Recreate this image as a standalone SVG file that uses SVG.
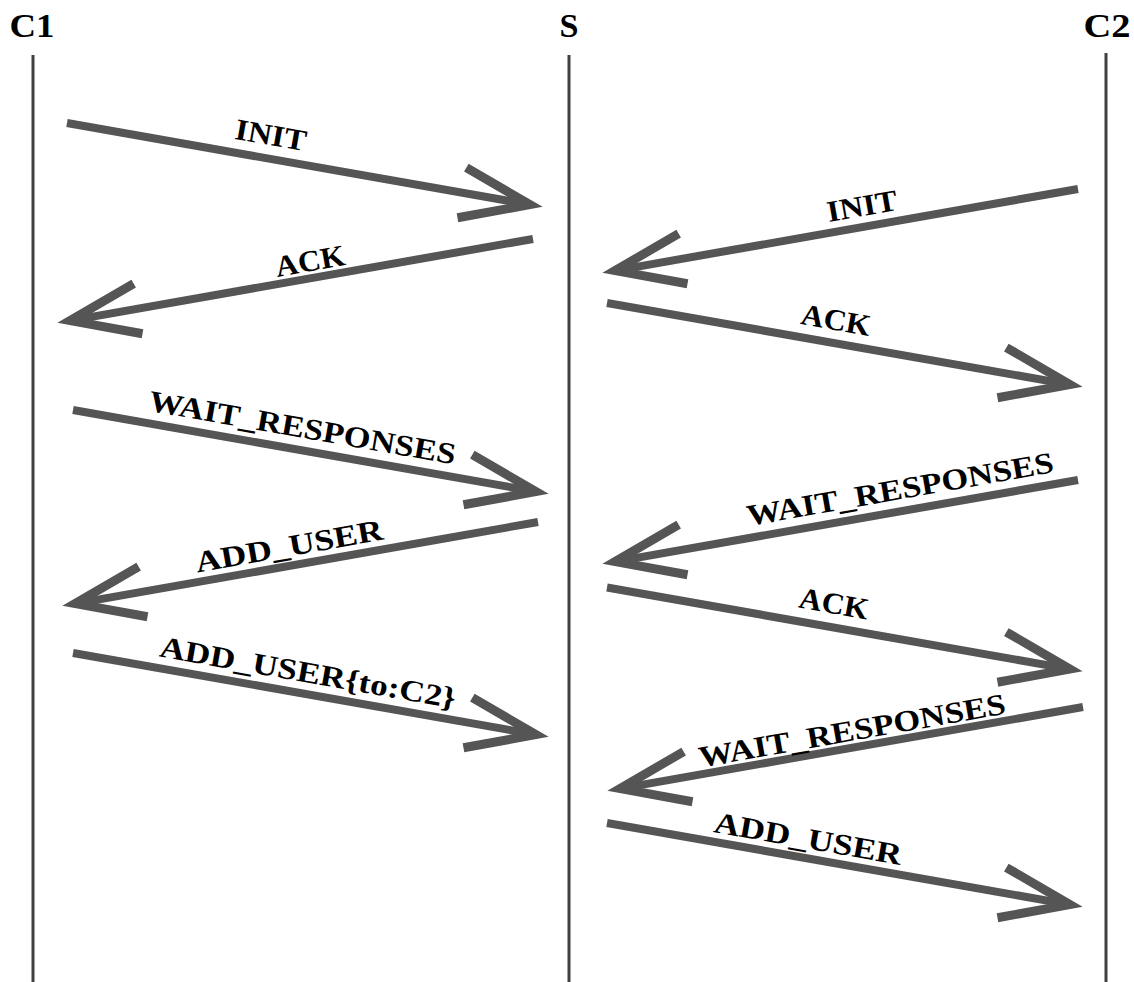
<svg xmlns="http://www.w3.org/2000/svg" width="1134" height="982" viewBox="0 0 1134 982">
<style>
.life{stroke:#404040;stroke-width:3}
.shaft{stroke:#555555;stroke-width:8;fill:none}
.head{stroke:#555555;stroke-width:9;fill:none;stroke-linejoin:miter;stroke-miterlimit:10}
.title{font-family:"Liberation Serif","Times New Roman",serif;font-weight:bold;font-size:33px;text-anchor:middle;fill:#000}
.lbl{font-family:"Liberation Serif","Times New Roman",serif;font-weight:bold;font-size:30px;text-anchor:middle;fill:#000}
</style>
<defs>
<g id="arrow">
<line class="shaft" x1="0" y1="0" x2="470" y2="0"/>
<polyline class="head" points="401,-25.5 470,0 401,25.5"/>
</g>
</defs>
<rect width="1134" height="982" fill="#ffffff"/>
<g id="C1">
<text class="title" x="32" y="37" textLength="45" lengthAdjust="spacingAndGlyphs">C1</text>
<line class="life" x1="33" y1="55" x2="33" y2="982"/>
</g>
<g id="S">
<text class="title" x="569" y="37" textLength="19" lengthAdjust="spacingAndGlyphs">S</text>
<line class="life" x1="569" y1="55" x2="569" y2="982"/>
</g>
<g id="C2">
<text class="title" x="1107" y="37" textLength="47" lengthAdjust="spacingAndGlyphs">C2</text>
<line class="life" x1="1106" y1="53" x2="1106" y2="982"/>
</g>
<g id="connectors">
<use href="#arrow" transform="translate(67,123) rotate(10)"/>
<use href="#arrow" transform="translate(533,239) rotate(170)"/>
<use href="#arrow" transform="translate(1078,189) rotate(170)"/>
<use href="#arrow" transform="translate(607,303) rotate(10)"/>
<use href="#arrow" transform="translate(73,410) rotate(10)"/>
<use href="#arrow" transform="translate(538,522) rotate(170)"/>
<use href="#arrow" transform="translate(1078,480) rotate(170)"/>
<use href="#arrow" transform="translate(607,587.5) rotate(10)"/>
<use href="#arrow" transform="translate(73,653) rotate(10)"/>
<use href="#arrow" transform="translate(1083,707) rotate(170)"/>
<use href="#arrow" transform="translate(607,823) rotate(10)"/>
<text class="lbl" transform="translate(269.2,144.9) rotate(10)" textLength="72" lengthAdjust="spacingAndGlyphs">INIT</text>
<text class="lbl" transform="translate(311.8,270.9) rotate(-10)" textLength="70" lengthAdjust="spacingAndGlyphs">ACK</text>
<text class="lbl" transform="translate(863.8,215.9) rotate(-10)" textLength="71" lengthAdjust="spacingAndGlyphs">INIT</text>
<text class="lbl" transform="translate(834.2,329.9) rotate(10)" textLength="70" lengthAdjust="spacingAndGlyphs">ACK</text>
<text class="lbl" transform="translate(300.7,437.4) rotate(10)" textLength="311" lengthAdjust="spacingAndGlyphs">WAIT_RESPONSES</text>
<text class="lbl" transform="translate(290.8,555.9) rotate(-10)" textLength="190" lengthAdjust="spacingAndGlyphs">ADD_USER</text>
<text class="lbl" transform="translate(901.8,498.9) rotate(-10)" textLength="311" lengthAdjust="spacingAndGlyphs">WAIT_RESPONSES</text>
<text class="lbl" transform="translate(832.2,613.4) rotate(10)" textLength="70" lengthAdjust="spacingAndGlyphs">ACK</text>
<text class="lbl" transform="translate(306.2,682.4) rotate(10)" textLength="300" lengthAdjust="spacingAndGlyphs">ADD_USER{to:C2}</text>
<text class="lbl" transform="translate(853.8,740.4) rotate(-10)" textLength="311" lengthAdjust="spacingAndGlyphs">WAIT_RESPONSES</text>
<text class="lbl" transform="translate(806.2,848.4) rotate(10)" textLength="190" lengthAdjust="spacingAndGlyphs">ADD_USER</text>
</g>
</svg>
